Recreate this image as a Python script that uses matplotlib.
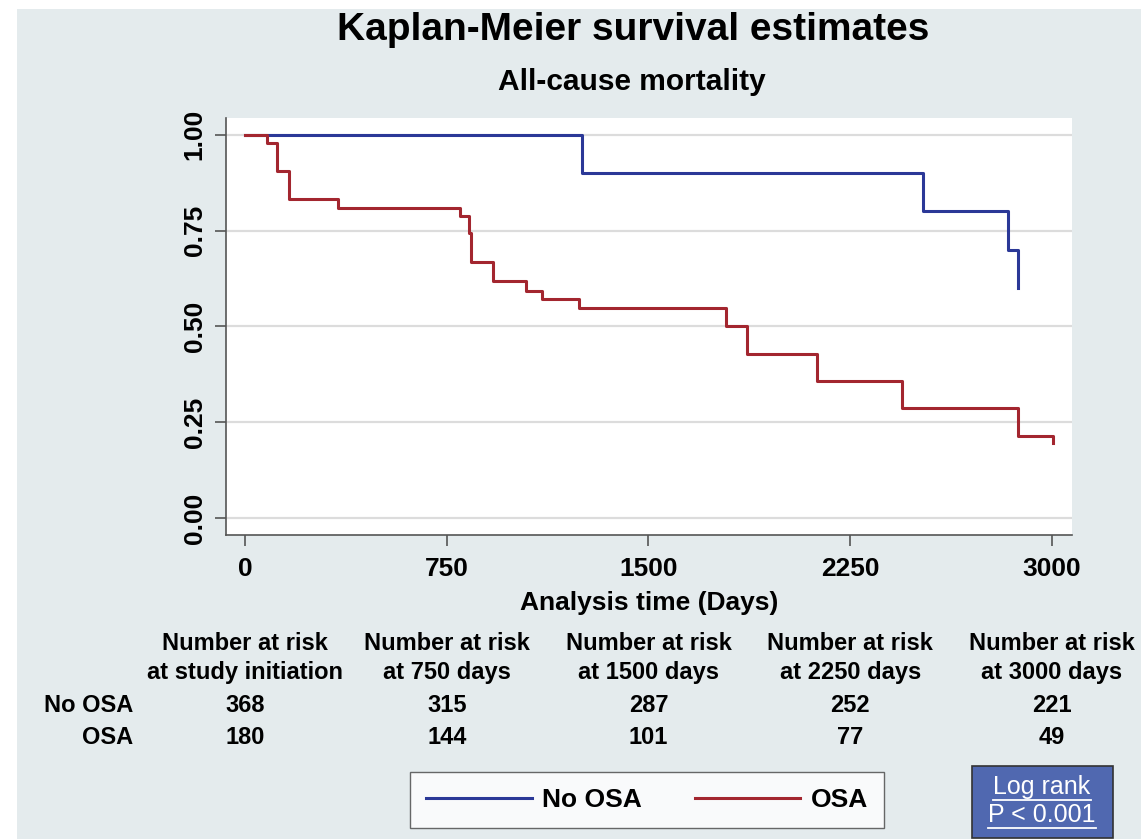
import matplotlib
matplotlib.use("Agg")
import matplotlib.pyplot as plt
from matplotlib.patches import Rectangle
from matplotlib.lines import Line2D

plt.rcParams['font.family'] = ['Liberation Sans', 'DejaVu Sans']
plt.rcParams['font.weight'] = 'bold'

# Kaplan-Meier step estimates (days, survival)
no_osa_days = [0, 1253, 2521, 2837, 2875]
no_osa_surv = [1.0, 0.90, 0.80, 0.70, 0.60]

osa_days = [0, 82, 119, 164, 346, 800, 833, 839, 922, 1045, 1105, 1242,
            1789, 1867, 2127, 2443, 2875, 3005]
osa_surv = [1.0, 0.978, 0.905, 0.832, 0.809, 0.788, 0.743, 0.668, 0.618,
            0.592, 0.571, 0.548, 0.501, 0.428, 0.357, 0.287, 0.214, 0.196]

# Number-at-risk table
risk_times = [0, 750, 1500, 2250, 3000]
risk_headers = ["Number at risk\nat study initiation", "Number at risk\nat 750 days",
                "Number at risk\nat 1500 days", "Number at risk\nat 2250 days",
                "Number at risk\nat 3000 days"]
groups = ["No OSA", "OSA"]
risk_no_osa = [368, 315, 287, 252, 221]
risk_osa = [180, 144, 101, 77, 49]

x_ticks = [0, 750, 1500, 2250, 3000]
y_ticks = [0.00, 0.25, 0.50, 0.75, 1.00]

BLUE = '#2b3897'
RED = '#a3262f'
BG = '#e4ebed'

W, H = 1141, 839
fig = plt.figure(figsize=(W / 100, H / 100), dpi=100)
fig.patch.set_facecolor('white')
fig.patches.append(Rectangle((17 / W, 0), 1 - 17 / W, (H - 9) / H,
                             transform=fig.transFigure, facecolor=BG,
                             edgecolor='none', zorder=-10))

ax = fig.add_axes([226 / W, (H - 535) / H, (1072 - 226) / W, (535 - 118) / H])
ax.set_facecolor('white')
ax.step(no_osa_days, no_osa_surv, where='post', color=BLUE, lw=2.2, zorder=3)
ax.step(osa_days, osa_surv, where='post', color=RED, lw=2.2, zorder=3)

ax.set_xlim(-71, 3075)
ax.set_ylim(-0.044, 1.0435)
ax.set_xticks(x_ticks)
ax.set_yticks(y_ticks)
ax.set_xticklabels([str(t) for t in x_ticks], fontsize=19, fontweight='bold')
ax.set_yticklabels([f"{v:.2f}" for v in y_ticks], fontsize=19, fontweight='bold',
                   rotation=90, va='center')
ax.tick_params(axis='both', length=8, width=1.2, color='#555555')
ax.tick_params(axis='x', pad=8)
ax.tick_params(axis='y', pad=6)
ax.grid(axis='y', color='#dcdcdc', lw=1.6, zorder=0)
for s in ['top', 'right']:
    ax.spines[s].set_visible(False)
for s in ['left', 'bottom']:
    ax.spines[s].set_color('#555555')
    ax.spines[s].set_linewidth(1.2)

ax.set_xlabel("Analysis time (Days)", fontsize=19, fontweight='bold', labelpad=7)

fig.text(633 / W, 1 - 40 / H, "Kaplan-Meier survival estimates", fontsize=28,
         fontweight='bold', ha='center', va='baseline')
fig.text(632 / W, 1 - 90 / H, "All-cause mortality", fontsize=21.5,
         fontweight='bold', ha='center', va='baseline')

# Number-at-risk table under the axis, aligned with the x ticks
for t, hdr, a, b in zip(risk_times, risk_headers, risk_no_osa, risk_osa):
    xf = ax.transData.transform((t, 0))[0] / W
    fig.text(xf, 1 - 658 / H, hdr, fontsize=17, fontweight='bold', ha='center',
             va='center', linespacing=1.32)
    fig.text(xf, 1 - 705 / H, str(a), fontsize=17, fontweight='bold', ha='center', va='center')
    fig.text(xf, 1 - 737 / H, str(b), fontsize=17, fontweight='bold', ha='center', va='center')
for g, yy in zip(groups, [705, 737]):
    fig.text(133 / W, 1 - yy / H, g, fontsize=17, fontweight='bold', ha='right', va='center')

handles = [Line2D([], [], color=BLUE, lw=2.2), Line2D([], [], color=RED, lw=2.2)]
leg = fig.legend(handles, groups, loc='center', bbox_to_anchor=(647 / W, 1 - 800 / H),
                 ncol=2, frameon=True, fancybox=False, handlelength=4.0,
                 handletextpad=0.4, columnspacing=2.0, borderpad=0.6,
                 prop={'weight': 'bold', 'size': 19})
leg.get_frame().set_edgecolor('#444444')
leg.get_frame().set_linewidth(1.0)

# Log-rank box
fig.patches.append(Rectangle((972 / W, 1 - 838 / H), (1113 - 972) / W, (838 - 766) / H,
                             transform=fig.transFigure, facecolor='#5068b0',
                             edgecolor='#333333', lw=1.2, zorder=2))
fig.canvas.draw()
renderer = fig.canvas.get_renderer()
for txt, yy in [("Log rank", 787), ("P < 0.001", 815)]:
    tt = fig.text(1042 / W, 1 - yy / H, txt, fontsize=18, fontweight='normal',
                  color='white', ha='center', va='center', zorder=3)
    bb = tt.get_window_extent(renderer)
    uy = bb.y0 - 1
    fig.add_artist(Line2D([bb.x0 / W, bb.x1 / W], [uy / H, uy / H], color='white',
                          lw=1.3, transform=fig.transFigure, zorder=3))

fig.savefig("out.png", dpi=100, facecolor=fig.get_facecolor())
